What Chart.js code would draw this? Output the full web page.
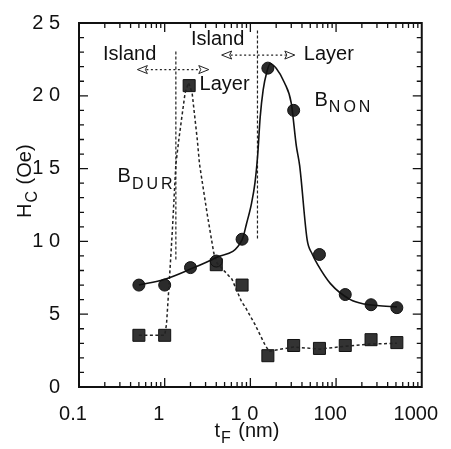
<!DOCTYPE html>
<html>
<head>
<meta charset="utf-8">
<script src="https://cdn.jsdelivr.net/npm/chart.js@4"></script>
<style>
  body { margin: 0; background: #fff; }
  #wrap { width: 451px; height: 449px; }
</style>
</head>
<body>
<div id="wrap"><canvas id="hcChart" width="451" height="449"></canvas></div>
<script>
// measured points, t_F in nm, H_C in Oe
const thickness = [0.5, 1, 2, 4, 8, 16, 32, 64, 128, 256, 512];
const hcNon = [7.0, 7.0, 8.2, 8.65, 10.15, 21.9, 19.0, 9.1, 6.35, 5.65, 5.45];
const durThickness = [0.5, 1, 1.93, 4, 8, 16, 32, 64, 128, 256, 512];
const hcDur = [3.55, 3.55, 20.7, 8.4, 7.0, 2.15, 2.85, 2.65, 2.85, 3.25, 3.05];

// guide curves
const nonFitT = [0.5, 1, 2, 4, 8, 9, 10.3, 11.3, 12.2, 13, 14.1, 15.5, 17, 20, 25, 30, 34.3, 37.6, 46, 52, 61, 86, 147, 214, 300, 512];
const nonFitH = [7.0, 7.4, 8.1, 8.9, 10.1, 11.2, 12.6, 14, 16, 18.5, 20.4, 21.6, 22.2, 21.9, 20.9, 19.5, 16.6, 15.2, 10.1, 9.2, 8.4, 7.1, 6.0, 5.7, 5.6, 5.5];
const durFitT = [0.5, 1, 1.05, 1.13, 1.23, 1.35, 1.47, 1.73, 1.9, 2.09, 2.4, 2.55, 3.13, 3.74, 4.1, 6.1, 7.9, 8.7, 11.3, 14.8, 16.5, 32, 64, 128, 256, 512];
const durFitH = [3.55, 3.55, 4.3, 7.2, 10.8, 15.3, 17.1, 20.2, 20.9, 20.2, 17, 15.3, 11.9, 9.2, 8.5, 7.4, 5.85, 5.5, 4.3, 2.9, 2.45, 2.75, 2.6, 2.8, 2.95, 3.0];

// axis ticks
const xTickValues = [0.1, 1, 10, 100, 1000];
const xTickLabels = ['0.1', '1', '1 0', '100', '1000'];
const yTickValues = [0, 5, 10, 15, 20, 25];
const yTickLabels = ['0', '5', '1 0', '1 5', '2 0', '2 5'];

// island / layer transitions: [t, Hc bottom, Hc top]
const boundaries = [[1.35, 8.76, 23.1], [12.1, 10.2, 24.5]];
// arrows: [t from, t to, Hc]
const arrows = [[0.48, 3.27, 21.8], [4.62, 33, 22.8]];

const FONT = '"Liberation Sans", Arial, sans-serif';

const toXY = (xs, ys) => xs.map((x, i) => ({ x: x, y: ys[i] }));

function drawSub(ctx, main, sub, x, y, size, spacing) {
    ctx.font = size + 'px ' + FONT;
    ctx.fillText(main, x, y);
    let w = ctx.measureText(main).width;
    ctx.font = Math.round(size * 0.78) + 'px ' + FONT;
    let sx = x + w + 1;
    for (const ch of sub) {
        ctx.fillText(ch, sx, y + size * 0.32);
        sx += ctx.measureText(ch).width + spacing;
    }
    return sx;
}

const decorations = {
    id: 'decorations',
    beforeDatasetsDraw(chart) {
        const ctx = chart.ctx;
        const xs = chart.scales.x, ys = chart.scales.y;
        ctx.save();
        ctx.strokeStyle = '#222';
        ctx.lineWidth = 1.2;
        ctx.setLineDash([3, 2]);
        boundaries.forEach(b => {
            const px = xs.getPixelForValue(b[0]);
            ctx.beginPath();
            ctx.moveTo(px, ys.getPixelForValue(b[1]));
            ctx.lineTo(px, ys.getPixelForValue(b[2]));
            ctx.stroke();
        });
        arrows.forEach(a => {
            const x1 = xs.getPixelForValue(a[0]);
            const x2 = xs.getPixelForValue(a[1]);
            const py = ys.getPixelForValue(a[2]);
            ctx.setLineDash([2, 2.5]);
            ctx.lineWidth = 1.2;
            ctx.beginPath();
            ctx.moveTo(x1 + 9, py);
            ctx.lineTo(x2 - 9, py);
            ctx.stroke();
            ctx.setLineDash([]);
            ctx.lineWidth = 1;
            ctx.beginPath();
            ctx.moveTo(x1, py);
            ctx.lineTo(x1 + 10, py - 4);
            ctx.lineTo(x1 + 8, py);
            ctx.lineTo(x1 + 10, py + 4);
            ctx.closePath();
            ctx.stroke();
            ctx.beginPath();
            ctx.moveTo(x2, py);
            ctx.lineTo(x2 - 10, py - 4);
            ctx.lineTo(x2 - 8, py);
            ctx.lineTo(x2 - 10, py + 4);
            ctx.closePath();
            ctx.stroke();
        });
        ctx.restore();
    },
    afterDraw(chart) {
        const ctx = chart.ctx;
        const a = chart.chartArea;
        const xs = chart.scales.x, ys = chart.scales.y;
        ctx.save();
        ctx.strokeStyle = '#111';
        ctx.fillStyle = '#111';
        ctx.lineWidth = 2;
        ctx.strokeRect(a.left, a.top, a.right - a.left, a.bottom - a.top);

        // inward ticks on all four sides
        ctx.lineWidth = 1.3;
        ctx.beginPath();
        for (let d = 0.1; d < 1000; d *= 10) {
            for (let m = 1; m < 10; m++) {
                const v = d * m;
                const px = xs.getPixelForValue(v);
                const len = m === 1 ? 9 : 5;
                ctx.moveTo(px, a.bottom); ctx.lineTo(px, a.bottom - len);
                ctx.moveTo(px, a.top); ctx.lineTo(px, a.top + len);
            }
        }
        for (let v = 0; v <= 25; v++) {
            const py = ys.getPixelForValue(v);
            const len = v % 5 === 0 ? 9 : 5;
            ctx.moveTo(a.left, py); ctx.lineTo(a.left + len, py);
            ctx.moveTo(a.right, py); ctx.lineTo(a.right - len, py);
        }
        ctx.stroke();

        // text labels
        ctx.textBaseline = 'alphabetic';
        ctx.textAlign = 'center';
        ctx.font = '20px ' + FONT;
        ctx.fillText('Island', xs.getPixelForValue(0.39), ys.getPixelForValue(22.45));
        ctx.fillText('Island', xs.getPixelForValue(4.15), ys.getPixelForValue(23.5));
        ctx.textAlign = 'left';
        ctx.fillText('Layer', xs.getPixelForValue(2.55), ys.getPixelForValue(20.4));
        ctx.fillText('Layer', xs.getPixelForValue(42), ys.getPixelForValue(22.45));
        drawSub(ctx, 'B', 'NON', xs.getPixelForValue(56), ys.getPixelForValue(19.3), 20, 3);
        drawSub(ctx, 'B', 'DUR', xs.getPixelForValue(0.282), ys.getPixelForValue(14.05), 20, 3);

        // axis titles
        const tx = (a.left + a.right) / 2 - 36;
        let end = drawSub(ctx, 't', 'F', tx, 437, 20, 0);
        ctx.font = '20px ' + FONT;
        ctx.fillText(' (nm)', end + 2, 437);

        ctx.translate(31, 218);
        ctx.rotate(-Math.PI / 2);
        end = drawSub(ctx, 'H', 'C', 0, 0, 20, 0);
        ctx.font = '20px ' + FONT;
        ctx.fillText(' (Oe)', end + 1, 0);
        ctx.restore();
    }
};

const ctx = document.getElementById('hcChart').getContext('2d');
const hcChart = new Chart(ctx, {
    type: 'line',
    data: {
        datasets: [
            {
                label: 'B_NON fit',
                data: toXY(nonFitT, nonFitH),
                borderColor: '#111',
                borderWidth: 1.6,
                pointRadius: 0,
                cubicInterpolationMode: 'monotone'
            },
            {
                label: 'B_DUR fit',
                data: toXY(durFitT, durFitH),
                borderColor: '#222',
                borderWidth: 1.5,
                borderDash: [3, 2.5],
                pointRadius: 0,
                tension: 0
            },
            {
                label: 'B_NON',
                data: toXY(thickness, hcNon),
                showLine: false,
                pointStyle: 'circle',
                pointRadius: 6,
                backgroundColor: '#2b2b2b',
                borderColor: '#111',
                borderWidth: 1
            },
            {
                label: 'B_DUR',
                data: toXY(durThickness, hcDur),
                showLine: false,
                pointStyle: 'rect',
                pointRadius: 8.5,
                backgroundColor: '#333',
                borderColor: '#111',
                borderWidth: 1
            }
        ]
    },
    options: {
        responsive: false,
        animation: false,
        layout: { padding: { left: 0, right: 26, top: 15, bottom: 0 } },
        plugins: {
            legend: { display: false },
            tooltip: { enabled: false }
        },
        scales: {
            x: {
                type: 'logarithmic',
                min: 0.1,
                max: 1000,
                grid: { display: false },
                border: { display: false },
                afterBuildTicks: (scale) => { scale.ticks = xTickValues.map(v => ({ value: v })); },
                afterFit: (scale) => { scale.height = 62; },
                ticks: {
                    color: '#111',
                    font: { family: FONT, size: 20 },
                    padding: 7,
                    labelOffset: -6,
                    maxRotation: 0,
                    autoSkip: false,
                    callback: (v) => xTickLabels[xTickValues.indexOf(v)]
                }
            },
            y: {
                min: 0,
                max: 25,
                grid: { display: false },
                border: { display: false },
                afterBuildTicks: (scale) => { scale.ticks = yTickValues.map(v => ({ value: v })); },
                afterFit: (scale) => { scale.width = 79; },
                ticks: {
                    color: '#111',
                    font: { family: FONT, size: 20 },
                    padding: 11,
                    callback: (v) => yTickLabels[yTickValues.indexOf(v)]
                }
            }
        }
    },
    plugins: [decorations]
});
</script>
</body>
</html>
